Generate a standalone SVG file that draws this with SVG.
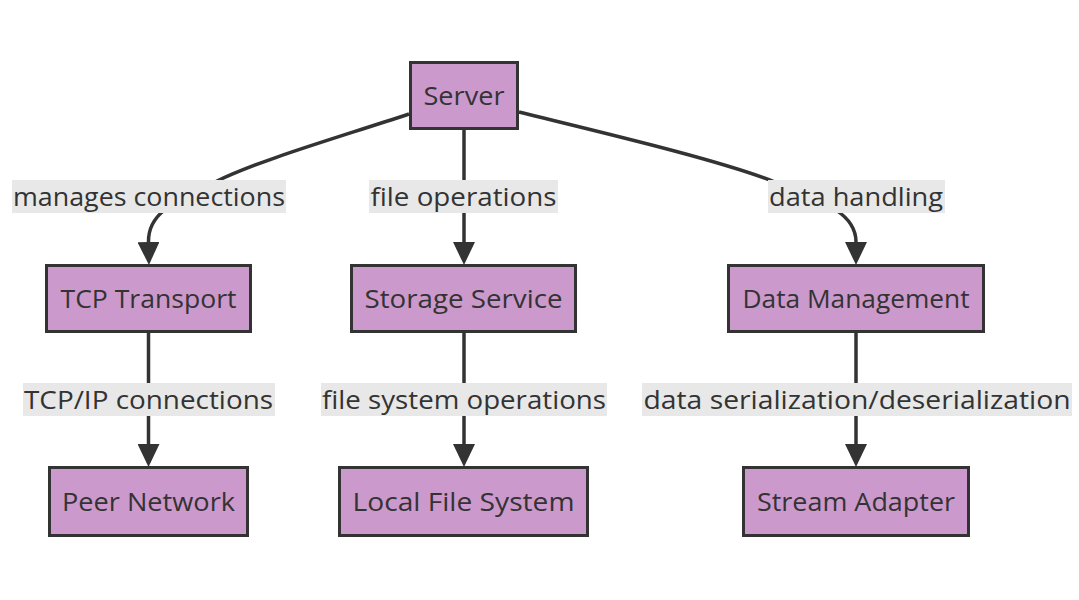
<svg xmlns="http://www.w3.org/2000/svg" width="1079" height="600" viewBox="0 0 1079 600">
<style>
.node rect{fill:#cc99cc;stroke:#333333;stroke-width:3}
.node text,.lbl text{font-family:"Open Sans","DejaVu Sans",sans-serif;font-size:26px;fill:#333333;text-anchor:middle}
.edge{fill:none;stroke:#333333;stroke-width:3.5}
.lbl rect{fill:#e8e8e8}
</style>
<defs>
<marker id="arrow" markerUnits="userSpaceOnUse" markerWidth="23" markerHeight="22" refX="0" refY="11" orient="auto" viewBox="0 0 23 22">
<path d="M0,0 L23,11 L0,22 z" fill="#333333"/>
</marker>
</defs>
<rect width="1079" height="600" fill="#ffffff"/>
<g id="connectors">
<path class="edge" d="M409,114 C330,140 260,160 215,182 C168,205 148,215 148.5,242" marker-end="url(#arrow)"/>
<path class="edge" d="M464,130 L464,242" marker-end="url(#arrow)"/>
<path class="edge" d="M519,112 C600,132 720,160 775,182 C830,204 856,215 856,242" marker-end="url(#arrow)"/>
<path class="edge" d="M148.5,333 L148.5,444" marker-end="url(#arrow)"/>
<path class="edge" d="M464,333 L464,444" marker-end="url(#arrow)"/>
<path class="edge" d="M856,333 L856,444" marker-end="url(#arrow)"/>
</g>
<g id="edge-labels">
<g class="lbl"><rect x="12" y="180" width="274" height="33"/><text x="149" y="206" textLength="272" lengthAdjust="spacingAndGlyphs">manages connections</text></g>
<g class="lbl"><rect x="369" y="180" width="189" height="33"/><text x="463.5" y="206" textLength="186" lengthAdjust="spacingAndGlyphs">file operations</text></g>
<g class="lbl"><rect x="768" y="180" width="177" height="33"/><text x="856" y="206" textLength="174" lengthAdjust="spacingAndGlyphs">data handling</text></g>
<g class="lbl"><rect x="23" y="383" width="252" height="33"/><text x="148.5" y="409" textLength="249" lengthAdjust="spacingAndGlyphs">TCP/IP connections</text></g>
<g class="lbl"><rect x="321" y="383" width="286" height="33"/><text x="464" y="409" textLength="284" lengthAdjust="spacingAndGlyphs">file system operations</text></g>
<g class="lbl"><rect x="642" y="383" width="430" height="33"/><text x="857" y="409" textLength="427" lengthAdjust="spacingAndGlyphs">data serialization/deserialization</text></g>
</g>
<g id="node-server" class="node"><rect x="410.5" y="62.5" width="107" height="66"/><text x="464" y="105" textLength="81" lengthAdjust="spacingAndGlyphs">Server</text></g>
<g id="node-tcp" class="node"><rect x="46.5" y="265.5" width="204" height="66"/><text x="148.5" y="308" textLength="176" lengthAdjust="spacingAndGlyphs">TCP Transport</text></g>
<g id="node-storage" class="node"><rect x="351.5" y="265.5" width="224" height="66"/><text x="463.5" y="308" textLength="198" lengthAdjust="spacingAndGlyphs">Storage Service</text></g>
<g id="node-data" class="node"><rect x="728.5" y="265.5" width="255" height="66"/><text x="856" y="308" textLength="227" lengthAdjust="spacingAndGlyphs">Data Management</text></g>
<g id="node-peer" class="node"><rect x="49.5" y="467.5" width="198" height="68"/><text x="148.5" y="511" textLength="173" lengthAdjust="spacingAndGlyphs">Peer Network</text></g>
<g id="node-local" class="node"><rect x="339.5" y="467.5" width="248" height="68"/><text x="463.5" y="511" textLength="222" lengthAdjust="spacingAndGlyphs">Local File System</text></g>
<g id="node-stream" class="node"><rect x="743.5" y="467.5" width="225" height="68"/><text x="856" y="511" textLength="198" lengthAdjust="spacingAndGlyphs">Stream Adapter</text></g>
</svg>
